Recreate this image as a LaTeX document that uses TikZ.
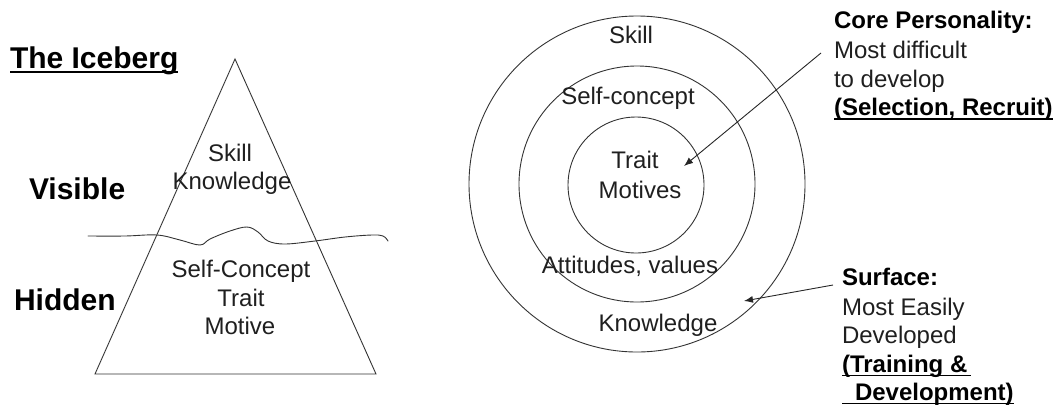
\documentclass[tikz,border=0pt]{standalone}
\usepackage{fontspec}
\setmainfont{Liberation Sans}
\usetikzlibrary{arrows.meta}
\begin{document}
\begin{tikzpicture}[x=1pt,y=-1pt,
  txt/.style={inner sep=0pt,outer sep=0pt,text=black!88,font=\fontsize{24}{28}\selectfont},
  head/.style={inner sep=0pt,outer sep=0pt,text=black,font=\fontsize{30}{34}\selectfont\bfseries},
  subhead/.style={inner sep=0pt,outer sep=0pt,text=black,font=\fontsize{24}{28}\selectfont\bfseries},
  shape line/.style={draw=black!80,line width=0.9pt},
  uline/.style={draw=black,line width=1.3pt},
  pointer/.style={draw=black!85,line width=0.9pt,-{Latex[length=9pt,width=7pt]}}]
\useasboundingbox (0,0) rectangle (1062,408);

% ---------- Iceberg ----------
\node[head,anchor=base west] (ice) at (10,68) {The Iceberg};
\draw[uline] ([yshift=-4pt]ice.base west) -- ([yshift=-4pt]ice.base east);
\node[head,anchor=base west] (visible) at (29,199) {Visible};
\node[head,anchor=base west] (hidden) at (14,310) {Hidden};

\draw[shape line,line join=miter] (235,59) -- (95,374) -- (376,374) -- cycle;

% water line across the iceberg
\draw[shape line,line cap=round] plot[smooth,tension=0.6] coordinates {
  (88,236) (125,236) (157,235) (180,240) (200,245) (210,239) (230,231)
  (247,227) (258,232) (268,241) (285,244) (315,241) (345,237) (372,235)
  (383,236) (388,241)};

\node[txt,anchor=base] (skillA) at (230,161) {Skill};
\node[txt,anchor=base] (knowA) at (232,189) {Knowledge};
\node[txt,anchor=base] (selfA) at (241,277) {Self-Concept};
\node[txt,anchor=base] (traitA) at (241,306) {Trait};
\node[txt,anchor=base] (motiveA) at (240,334) {Motive};

% ---------- Concentric model ----------
\node[shape line,circle,minimum size=336pt,inner sep=0pt] (outer) at (637,184) {};
\node[shape line,circle,minimum size=236pt,inner sep=0pt] (middle) at (637,184) {};
\node[shape line,circle,minimum size=136pt,inner sep=0pt] (inner) at (636,185) {};

\node[txt,anchor=base] (skillB) at (631,43) {Skill};
\node[txt,anchor=base] (selfB) at (628,104) {Self-concept};
\node[txt,anchor=base] (traitB) at (635,168) {Trait};
\node[txt,anchor=base] (motivesB) at (640,198) {Motives};
\node[txt,anchor=base] (attB) at (630,273) {Attitudes, values};
\node[txt,anchor=base] (knowB) at (658,331) {Knowledge};

% ---------- Core personality note ----------
\node[subhead,anchor=base west] (core) at (834,28) {Core Personality:};
\node[txt,anchor=base west] (coreA) at (834,58) {Most difficult};
\node[txt,anchor=base west] (coreB) at (834,87) {to develop};
\node[subhead,anchor=base west] (coreC) at (834,115) {(Selection, Recruit)};
\draw[uline] ([yshift=-4pt]coreC.base west) -- ([yshift=-4pt]coreC.base east);

\coordinate (coreTail) at (821,53);
\coordinate (coreTip) at (684,166);
\draw[pointer] (coreTail) -- (coreTip);

% ---------- Surface note ----------
\node[subhead,anchor=base west] (surf) at (842,285) {Surface:};
\node[txt,anchor=base west] (surfA) at (842,315) {Most Easily};
\node[txt,anchor=base west] (surfB) at (842,343) {Developed};
\node[subhead,anchor=base west] (surfC) at (842,372) {(Training \&};
\node[subhead,anchor=base west] (surfD) at (855,400) {Development)};
\draw[uline] ([yshift=-3.5pt]surfC.base west) -- ([xshift=4pt,yshift=-3.5pt]surfC.base east);
\draw[uline] ([xshift=-13pt,yshift=-3.5pt]surfD.base west) -- ([yshift=-3.5pt]surfD.base east);

\coordinate (surfTail) at (833,285);
\coordinate (surfTip) at (744,301);
\draw[pointer] (surfTail) -- (surfTip);
\end{tikzpicture}
\end{document}
